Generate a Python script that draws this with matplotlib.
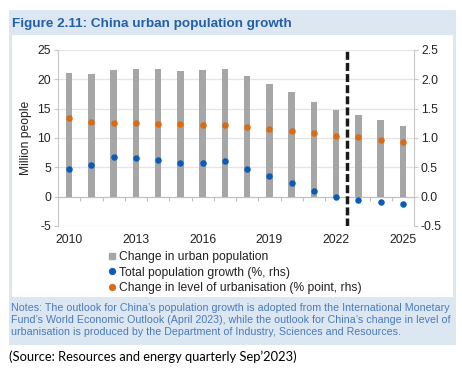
import matplotlib
matplotlib.use("Agg")
import matplotlib.pyplot as plt
from matplotlib.patches import Rectangle
from matplotlib.lines import Line2D
from matplotlib.ticker import FormatStrFormatter
import numpy as np

plt.rcParams['font.family'] = ['Liberation Sans', 'DejaVu Sans']
plt.rcParams['axes.unicode_minus'] = False

years = list(range(2010, 2026))
urban_change = [21.1, 20.9, 21.6, 21.7, 21.7, 21.5, 21.6, 21.8,
                20.5, 19.2, 17.8, 16.1, 14.7, 13.9, 13.0, 12.1]
pop_growth = [0.48, 0.54, 0.67, 0.66, 0.63, 0.58, 0.58, 0.60,
              0.47, 0.35, 0.23, 0.09, -0.01, -0.05, -0.09, -0.13]
urbanisation = [1.34, 1.28, 1.25, 1.25, 1.24, 1.24, 1.23, 1.22,
                1.18, 1.16, 1.12, 1.08, 1.04, 1.01, 0.97, 0.94]
tick_years = [2010, 2013, 2016, 2019, 2022, 2025]
forecast_split = 12.5

title = "Figure 2.11: China urban population growth"
notes = ("Notes: The outlook for China\u2019s population growth is adopted from the International Monetary\n"
         "Fund\u2019s World Economic Outlook (April 2023), while the outlook for China\u2019s change in level of\n"
         "urbanisation is produced by the Department of Industry, Sciences and Resources.")
source = "(Source: Resources and energy quarterly Sep\u20192023)"

W, H = 462, 371
fig = plt.figure(figsize=(W / 100, H / 100), dpi=100)

def fx(px):
    return px / W

def fy(py):
    return 1 - py / H

# background panels
fig.patches.append(Rectangle((fx(9), fy(345)), fx(456) - fx(9), fy(10) - fy(345),
                             transform=fig.transFigure, facecolor='#dde7f1', edgecolor='none', zorder=-2))
fig.patches.append(Rectangle((fx(12), fy(297)), fx(453) - fx(12), fy(35) - fy(297),
                             transform=fig.transFigure, facecolor='white', edgecolor='none', zorder=-1))

fig.text(fx(12), fy(24), title, fontsize=9.7, fontweight='bold', color='#2360a8',
         ha='left', va='center')
fig.text(fx(11), fy(303), notes, fontsize=7.65, color='#4a7bbd', ha='left', va='top',
         linespacing=1.22)
fig.text(fx(9), fy(357), source, fontsize=9.3, color='black', ha='left', va='center',
         family=['Lato', 'DejaVu Sans'])

ax = fig.add_axes([fx(58), fy(226), fx(414) - fx(58), fy(50) - fy(226)])
ax.set_facecolor('none')
x = np.arange(len(years))
ax.bar(x, urban_change, width=0.3, color='#a6a6a6', zorder=2)
ax.set_xlim(-0.5, len(years) - 0.5)
ax.set_ylim(-5, 25)
ax.set_yticks(range(-5, 26, 5))
ax.grid(axis='y', color='#e4e4e4', linewidth=0.9, zorder=0)
ax.set_axisbelow(True)
for s in ['top', 'right']:
    ax.spines[s].set_visible(False)
ax.spines['left'].set_color('#c8c8c8')
ax.spines['bottom'].set_position(('data', 0))
ax.spines['bottom'].set_color('#c0c0c0')
ax.set_xticks(np.arange(-0.5, len(years), 1.0))
ax.set_xticklabels([])
ax.tick_params(axis='x', length=3, color='#c0c0c0', direction='out')
ax.tick_params(axis='y', length=3, color='#c8c8c8', labelsize=8.7, labelcolor='#222222', pad=2)
ax.set_ylabel('Million people', fontsize=8.7, color='#222222', labelpad=4)

sec = ax.secondary_xaxis(0.0)
sec.set_xticks([years.index(y) for y in tick_years])
sec.set_xticklabels([str(y) for y in tick_years])
sec.tick_params(length=0, labelsize=8.7, labelcolor='#222222', pad=6)
sec.spines['bottom'].set_visible(False)

ax2 = ax.twinx()
ax2.set_ylim(-0.5, 2.5)
ax2.set_yticks(np.arange(-0.5, 2.51, 0.5))
ax2.yaxis.set_major_formatter(FormatStrFormatter('%.1f'))
for s in ['top', 'left', 'bottom']:
    ax2.spines[s].set_visible(False)
ax2.spines['right'].set_color('#c8c8c8')
ax2.tick_params(axis='y', length=3, color='#c8c8c8', labelsize=8.7, labelcolor='#222222', pad=2)
ax2.scatter(x, urbanisation, s=22, color='#dc6a12', zorder=3, linewidths=0)
ax2.scatter(x, pop_growth, s=22, color='#0a5cb8', zorder=3, linewidths=0)
ax2.axvline(forecast_split, color='#1a1a1a', linewidth=2.5, linestyle=(0, (2.3, 0.9)), zorder=4)

handles = [
    Line2D([], [], marker='s', linestyle='none', color='#a6a6a6', markersize=5),
    Line2D([], [], marker='o', linestyle='none', color='#0a5cb8', markersize=4.2),
    Line2D([], [], marker='o', linestyle='none', color='#dc6a12', markersize=4.2),
]
labels = ['Change in urban population', 'Total population growth (%, rhs)',
          'Change in level of urbanisation (% point, rhs)']
fig.legend(handles, labels, loc='upper left', bbox_to_anchor=(fx(109), fy(251)),
           frameon=False, fontsize=8.75, handlelength=0.5, handletextpad=0.35,
           labelspacing=0.3, borderpad=0, borderaxespad=0, labelcolor='#222222')

fig.savefig('out.png', dpi=100)
